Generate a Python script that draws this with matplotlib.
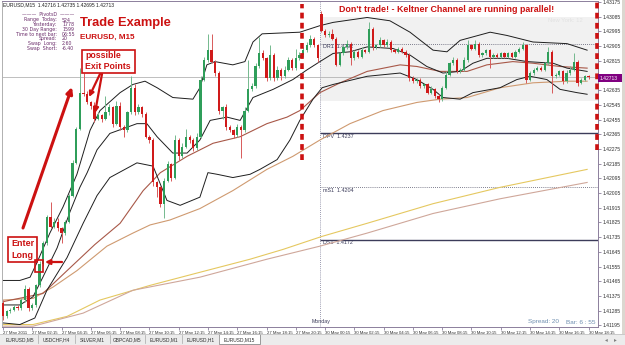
import matplotlib
matplotlib.use("Agg")
import matplotlib.pyplot as plt
from matplotlib.patches import Rectangle, FancyArrowPatch

W, H = 625, 345
PIP = 0.0001
RED = "#cc1111"

# ---- EURUSD M15 candles, bar 0 = 27 May, bar 87 = Monday 30 May 00:00 ----
closes = [
    1.4125, 1.4128, 1.4129, 1.4131, 1.4130, 1.4135, 1.4142, 1.4130, 1.4132, 1.4144,
    1.4157, 1.4170, 1.4186, 1.4180, 1.4183, 1.4179, 1.4176, 1.4183, 1.4199, 1.4219,
    1.4240, 1.4262, 1.4261, 1.4256, 1.4254, 1.4246, 1.4248, 1.4246, 1.4250, 1.4253,
    1.4243, 1.4254, 1.4241, 1.4239, 1.4250, 1.4265, 1.4250, 1.4253, 1.4249, 1.4235,
    1.4233, 1.4207, 1.4204, 1.4194, 1.4208, 1.4218, 1.4210, 1.4233, 1.4223, 1.4229,
    1.4235, 1.4233, 1.4228, 1.4235, 1.4270, 1.4282, 1.4288, 1.4281, 1.4274, 1.4251,
    1.4253, 1.4241, 1.4239, 1.4236, 1.4241, 1.4239, 1.4251, 1.4264, 1.4266, 1.4278,
    1.4286, 1.4283, 1.4271, 1.4285, 1.4271, 1.4276, 1.4272, 1.4276, 1.4282, 1.4277,
    1.4283, 1.4285, 1.4288, 1.4291, 1.4295, 1.4291, 1.4283,
    # Monday
    1.4300, 1.4297, 1.4298, 1.4295, 1.4279, 1.4286, 1.4290, 1.4292, 1.4283, 1.4287,
    1.4284, 1.4288, 1.4287, 1.4301, 1.4290, 1.4291, 1.4294, 1.4291, 1.4293, 1.4288,
    1.4287, 1.4289, 1.4287, 1.4285, 1.4271, 1.4269, 1.4270, 1.4266, 1.4267, 1.4262,
    1.4264, 1.4260, 1.4258, 1.4265, 1.4273, 1.4280, 1.4282, 1.4275, 1.4276, 1.4282,
    1.4291, 1.4289, 1.4292, 1.4285, 1.4286, 1.4288, 1.4284, 1.4285, 1.4284, 1.4286,
    1.4284, 1.4286, 1.4284, 1.4287, 1.4289, 1.4291, 1.4270, 1.4274, 1.4276, 1.4277,
    1.4276, 1.4280, 1.4287, 1.4272, 1.4273, 1.4275, 1.4269, 1.4274, 1.4276, 1.4281,
    1.4268, 1.4270, 1.4272, 1.42713,
]
# wick lengths in pips beyond the body
wick_up = [
    2, 1, 1, 1, 1, 1, 2, 1, 1, 1,  2, 1, 1, 9, 2, 2, 1, 1, 1, 2,
    1, 15, 12, 2, 1, 2, 2, 1, 10, 2,  1, 3, 2, 1, 1, 7, 2, 2, 1, 1,
    1, 1, 1, 1, 2, 2, 1, 3, 1, 2,  5, 1, 1, 2, 2, 2, 10, 10, 1, 1,
    1, 2, 1, 1, 2, 1, 2, 18, 2, 2,  10, 2, 1, 6, 1, 2, 1, 2, 2, 1,
    6, 2, 2, 2, 2, 1, 1, 2, 1, 2,  3, 1, 1, 1, 2, 1, 1, 1, 2, 1,
    4, 1, 1, 2, 1, 2, 1, 1, 1, 1,  1, 1, 1, 1, 1, 1, 1, 2, 1, 1,
    1, 2, 1, 2, 1, 1, 2, 3, 1, 2,  1, 1, 1, 1, 1, 1, 1, 1, 1, 1,
    1, 1, 2, 1, 1, 1, 1, 1, 1, 3,  1, 1, 1, 1, 2, 2, 5, 1, 1, 1,
    1,
]
wick_dn = [
    2, 1, 1, 1, 1, 1, 1, 2, 1, 1,  1, 1, 1, 1, 1, 2, 6, 1, 1, 1,
    1, 1, 1, 1, 2, 2, 1, 2, 1, 2,  2, 1, 2, 4, 1, 1, 2, 1, 2, 1,
    2, 2, 6, 2, 9, 1, 2, 1, 2, 1,  1, 2, 2, 1, 1, 1, 1, 1, 2, 2,
    5, 2, 1, 2, 1, 17, 1, 1, 1, 1,  1, 1, 2, 1, 2, 1, 2, 1, 1, 1,
    1, 1, 1, 1, 1, 1, 2, 1, 1, 1,  1, 1, 1, 1, 1, 4, 1, 1, 1, 1,
    1, 2, 1, 1, 1, 1, 1, 1, 1, 1,  1, 2, 1, 1, 1, 1, 1, 1, 1, 2,
    1, 1, 1, 1, 1, 1, 1, 1, 1, 1,  1, 1, 1, 7, 1, 1, 1, 1, 1, 1,
    1, 1, 1, 2, 1, 1, 1, 1, 1, 1,  10, 1, 1, 2, 1, 1, 1, 2, 1, 1,
    1,
]
first_open = 1.4133
monday_open = 1.4310
monday_bar = 87
current_price = 1.42713

# ---- indicator lines as (bar, price) ----
upper_bars = [0, 4.6, 7.4, 9.3, 12.8, 16.4, 20.2, 23.8, 26.5, 32, 35.5, 38.8, 42.1, 46.4, 51.9,
              53.8, 55.7, 57.9, 62.8, 66.1, 68.3, 70.8, 81.1, 86.6, 90.2, 99.5, 105.7, 111.2,
              117.5, 121.3, 124.9, 133.1, 137.7, 144.8, 154.1, 159.6]
upper_vals = [1.4147, 1.4147, 1.4149, 1.4158, 1.4176, 1.4192, 1.4212, 1.4239, 1.4251, 1.4262,
              1.4267, 1.4269, 1.4265, 1.4259, 1.4258, 1.4265, 1.4279, 1.4281, 1.4279, 1.4281,
              1.4293, 1.4298, 1.4299, 1.4303, 1.4305, 1.4308, 1.4306, 1.4299, 1.4288, 1.4287,
              1.4294, 1.4299, 1.4297, 1.4293, 1.4292, 1.4288]
middle_bars = [0, 4.6, 8.2, 10.9, 14.8, 18.3, 21, 23, 25.7, 29.2, 36.6, 39.3, 42.1, 46.4, 50.3,
               53.8, 56.6, 61.2, 64.8, 68.3, 73.8, 79.2, 83.1, 86.6, 90.2, 94.8, 99.5, 106.6,
               111.2, 115.8, 120.2, 124.9, 128.4, 132.2, 137.7, 143.2, 150.3, 154.1, 159.6]
middle_vals = [1.4132, 1.4132, 1.4137, 1.4149, 1.4167, 1.4189, 1.4204, 1.4213, 1.4227, 1.4237,
               1.4243, 1.4243, 1.4235, 1.4225, 1.4225, 1.4233, 1.4245, 1.4247, 1.4245, 1.4259,
               1.4264, 1.4270, 1.4276, 1.4281, 1.4286, 1.4287, 1.4290, 1.4289, 1.4285, 1.4278,
               1.4274, 1.4275, 1.4280, 1.4283, 1.4283, 1.4281, 1.4280, 1.4277, 1.4275]
lower_bars = [0, 4.6, 8.7, 12, 17.5, 21.9, 25.7, 29.2, 36.6, 41, 44.8, 48.4, 53.8, 56, 58.5,
              62.8, 67.5, 70.2, 74.9, 78.4, 81.1, 84.7, 87.2, 90.2, 99.5, 108.5, 113.1, 117.5,
              120.2, 124.9, 128.4, 135.8, 140.4, 144, 148.6, 152.2, 156.8, 159.6]
lower_vals = [1.4121, 1.4120, 1.4124, 1.4141, 1.4161, 1.4182, 1.4199, 1.4210, 1.4219, 1.4217,
              1.4196, 1.4193, 1.4198, 1.4213, 1.4212, 1.4210, 1.4212, 1.4215, 1.4221, 1.4233,
              1.4245, 1.4258, 1.4265, 1.4267, 1.4272, 1.4274, 1.4270, 1.4264, 1.4259, 1.4258,
              1.4262, 1.4265, 1.4270, 1.4272, 1.4270, 1.4264, 1.4262, 1.4261]
ma_fast_bars = [0, 10.9, 17.5, 25.1, 32, 38.3, 43, 50.3, 57.4, 64.8, 72.1, 77.6, 81.1, 86.6,
                92.1, 99.5, 108.5, 113.1, 119.4, 126.8, 132.2, 139.3, 144.8, 152.2, 159.6]
ma_fast_vals = [1.4134, 1.4139, 1.4153, 1.4169, 1.4182, 1.4202, 1.4213, 1.4223, 1.4231, 1.4235,
                1.4243, 1.4247, 1.4251, 1.4262, 1.4268, 1.4275, 1.4279, 1.4278, 1.4275, 1.4275,
                1.4279, 1.4281, 1.4280, 1.4278, 1.4277]
ma_slow_bars = [0, 8.2, 13.7, 20.2, 28.4, 35.5, 40.2, 45.6, 53.8, 62.8, 72.1, 79.2, 86.6, 94.8,
                103.8, 113.1, 119.4, 126.8, 135.8, 144.8, 154.1, 159.6]
ma_slow_vals = [1.4135, 1.4136, 1.4143, 1.4153, 1.4168, 1.4176, 1.4181, 1.4184, 1.4191, 1.4202,
                1.4215, 1.4223, 1.4233, 1.4243, 1.4251, 1.4256, 1.4258, 1.4259, 1.4265, 1.4268,
                1.4269, 1.4269]
ma_gold_bars = [0, 8.2, 17.5, 26.5, 40.2, 53.8, 67.5, 76.5, 87.2, 99.5, 117.5, 135.8, 159.6]
ma_gold_vals = [1.4120, 1.4120, 1.4125, 1.4135, 1.4144, 1.4152, 1.4160, 1.4166, 1.4174, 1.4182,
                1.4194, 1.4204, 1.4215]
ma_tan_bars = [0, 8.2, 21.9, 35.5, 53.8, 72.1, 86.6, 99.5, 117.5, 135.8, 159.6]
ma_tan_vals = [1.4119, 1.4119, 1.4127, 1.4141, 1.4149, 1.4160, 1.4168, 1.4176, 1.4188, 1.4197,
               1.4207]

# ---- pivots ----
pivot_names = ["DR1", "DPV", "mS1", "DS1"]
pivot_levels = [1.4292, 1.4237, 1.4204, 1.4172]
pivot_solid = [False, True, False, True]
monday_range = (1.4257, 1.4308)

# ---- axis labels ----
x_tick_bars = [0, 8, 16, 24, 32, 40, 48, 56, 64, 72, 80,
               88, 96, 104, 112, 120, 128, 136, 144, 152, 160]
x_tick_labels = ["27 May 2011", "27 May 02:15", "27 May 04:15", "27 May 06:15", "27 May 08:15",
                 "27 May 10:15", "27 May 12:15", "27 May 14:15", "27 May 16:15", "27 May 18:15",
                 "27 May 20:15", "30 May 00:15", "30 May 02:15", "30 May 04:15", "30 May 06:15",
                 "30 May 08:15", "30 May 10:15", "30 May 12:15", "30 May 14:15", "30 May 16:15",
                 "30 May 18:15"]
y_ticks = [1.41195, 1.41285, 1.41375, 1.41465, 1.41555, 1.41645, 1.41735, 1.41825, 1.41915,
           1.42005, 1.42095, 1.42185, 1.42275, 1.42365, 1.42455, 1.42545, 1.42635, 1.42725,
           1.42815, 1.42905, 1.42995, 1.43085, 1.43175]
# the 1.42725 label sits under the current-price marker
y_tick_labels = ["1.41195", "1.41285", "1.41375", "1.41465", "1.41555", "1.41645", "1.41735",
                 "1.41825", "1.41915", "1.42005", "1.42095", "1.42185", "1.42275", "1.42365",
                 "1.42455", "1.42545", "1.42635", "", "1.42815", "1.42905", "1.42995",
                 "1.43085", "1.43175"]

info_labels = ["Range  Today:", "Yesterday:", "30 Day Range:", "Time to next bar:",
               "Spread:", "Swap  Long:", "Swap  Short:"]
info_values = ["524", "1778", "1599", "06:55", "20", "2.60", "-6.40"]
tabs = ["EURUSD,M5", "USDCHF,H4", "SILVER,M1", "GBPCAD,M5", "EURUSD,M1", "EURUSD,H1", "EURUSD,M15"]
tab_edges = [2, 38, 75, 110, 145, 182, 219, 260]

plt.rcParams["font.family"] = ["Liberation Sans", "DejaVu Sans"]

fig = plt.figure(figsize=(W / 100, H / 100), dpi=100)
fig.patch.set_facecolor("white")
ax = fig.add_axes([2 / W, 18 / H, 596 / W, 326 / H])
ax.set_xlim(-0.27, 162.57)
ax.set_ylim(1.41185, 1.43181)


def ftext(x, y, s, **kw):
    return fig.text(x / W, 1 - y / H, s, **kw)


def frect(x0, y0, x1, y1, **kw):
    r = Rectangle((x0 / W, 1 - y1 / H), (x1 - x0) / W, (y1 - y0) / H,
                  transform=fig.transFigure, **kw)
    fig.add_artist(r)
    return r


def farrow(x0, y0, x1, y1, lw, ms):
    fig.add_artist(FancyArrowPatch((x0 / W, 1 - y0 / H), (x1 / W, 1 - y1 / H),
                                   transform=fig.transFigure, arrowstyle="-|>",
                                   mutation_scale=ms, color=RED, lw=lw,
                                   shrinkA=0, shrinkB=0))


# Monday range box and separators
ax.add_patch(Rectangle((86.75, monday_range[0]), 162.57 - 86.75,
                       monday_range[1] - monday_range[0], fc="#f1f1f1", ec="none", zorder=0))
ax.axvline(86.75, color="#7a7a96", lw=0.6, ls=(0, (1, 1.5)), zorder=1)
ax.axhline(current_price, color="#b4b4b4", lw=0.6, zorder=1)

for name, lvl, solid in zip(pivot_names, pivot_levels, pivot_solid):
    if solid:
        ax.hlines(lvl, 86.75, 162.57, color="#3c3c5a", lw=1.0, zorder=1.5)
    else:
        ax.hlines(lvl, 86.75, 162.57, color="#55556a", lw=0.6, ls=(0, (1, 1.5)), zorder=1.5)
    ax.text(87.3, lvl - 0.00003, f"{name}  {lvl:.4f}", fontsize=3.9, color="#3c3c5a",
            va="top", ha="left", zorder=2)

# indicator lines
ax.plot(ma_gold_bars, ma_gold_vals, color="#e5c860", lw=0.8, zorder=2)
ax.plot(ma_tan_bars, ma_tan_vals, color="#cfa79a", lw=0.8, zorder=2)
ax.plot(ma_slow_bars, ma_slow_vals, color="#cf9a70", lw=0.8, zorder=2)
ax.plot(ma_fast_bars, ma_fast_vals, color="#a85848", lw=0.8, zorder=2)
for bx, vals in [(upper_bars, upper_vals), (middle_bars, middle_vals), (lower_bars, lower_vals)]:
    ax.plot(bx, vals, color="#1e1e1e", lw=0.7, zorder=2.2)

# candles
opens = [first_open] + closes[:-1]
opens[monday_bar] = monday_open
xs = list(range(len(closes)))
highs, lows, bottoms, heights, body_c, wick_c = [], [], [], [], [], []
for o, c, wu, wd in zip(opens, closes, wick_up, wick_dn):
    top, bot = max(o, c), min(o, c)
    highs.append(top + wu * PIP)
    lows.append(bot - wd * PIP)
    bottoms.append(bot)
    heights.append(max(top - bot, 0.00003))
    bull = c >= o
    body_c.append("#2f9e5a" if bull else "#d01a1a")
    wick_c.append("#74b98e" if bull else "#d85a5a")
ax.vlines(xs, lows, highs, colors=wick_c, lw=0.7, zorder=3)
ax.bar(xs, heights, bottom=bottoms, width=0.62, color=body_c, linewidth=0, zorder=4)

# red dashed markers
ax.plot([81.7, 81.7], [1.4221, 1.4316], color=RED, lw=2.6, dashes=(1.6, 1.2),
        dash_capstyle="butt", zorder=5)
ax.plot([162.3, 162.3], [1.4227, 1.43175], color=RED, lw=2.6, dashes=(1.6, 1.2),
        dash_capstyle="butt", zorder=5, clip_on=False)

# axes styling
for side in ["top", "right", "bottom", "left"]:
    ax.spines[side].set_color("#8c7f9c")
    ax.spines[side].set_linewidth(0.7)
ax.spines["left"].set_color("#b0b0b0")
ax.yaxis.tick_right()
ax.set_yticks(y_ticks)
ax.set_yticklabels(y_tick_labels)
ax.tick_params(axis="y", direction="out", length=2, width=0.6, pad=1.5,
               labelsize=3.6, colors="#8c7f9c", labelcolor="#303030")
ax.set_xticks(x_tick_bars)
ax.set_xticklabels(x_tick_labels, ha="left")
ax.tick_params(axis="x", direction="out", length=2, width=0.6, pad=1.2,
               labelsize=3.1, colors="#8c7f9c", labelcolor="#303030")

# current price marker
frect(598, 74, 622, 82, fc="#800080", ec="none")
ftext(600, 78.2, f"{current_price:.5f}", fontsize=3.6, color="white", va="center")

# header texts
ftext(3, 5, "EURUSD,M15  1.42716 1.42735 1.42695 1.42713", fontsize=3.6, color="#202020",
      va="center")
ftext(48, 15, "———  PivotsD  ———", fontsize=3.4, color="#6b2d6b", va="center", ha="center",
      family="DejaVu Sans")
for k, (lab, val) in enumerate(zip(info_labels, info_values)):
    yy = 20 + k * 4.7
    ftext(57, yy, lab, fontsize=3.4, color="#6b2d6b", va="center", ha="right",
          family="DejaVu Sans")
    ftext(62, yy, val, fontsize=3.4, color="#6b2d6b", va="center", ha="left",
          family="DejaVu Sans")

ftext(80, 23, "Trade Example", fontsize=9.3, fontweight="bold", color=RED, va="center")
ftext(80, 37, "EURUSD, M15", fontsize=5.9, fontweight="bold", color=RED, va="center")
ftext(447, 10, "Don't trade! - Keltner Channel are running parallel!", fontsize=6.4,
      fontweight="bold", color=RED, va="center", ha="center")
ftext(548, 21, "New York: 12", fontsize=4.2, color="#e2e2e2", va="center")

# annotation boxes and arrows
frect(82, 50, 135, 73, fc="white", ec=RED, lw=1.2, zorder=6)
ftext(85, 56, "possible", fontsize=6.3, fontweight="bold", color=RED, va="center", zorder=7)
ftext(85, 66.5, "Exit Points", fontsize=6.3, fontweight="bold", color=RED, va="center", zorder=7)
frect(8, 237, 37, 262, fc="white", ec=RED, lw=1.2, zorder=6)
ftext(22.5, 243.5, "Enter", fontsize=6.4, fontweight="bold", color=RED, va="center",
      ha="center", zorder=7)
ftext(22.5, 255, "Long", fontsize=6.4, fontweight="bold", color=RED, va="center",
      ha="center", zorder=7)
frect(34.5, 260, 43, 272, fc="none", ec=RED, lw=1.2, zorder=6)

farrow(23, 228, 72, 87, 2.2, 9)
farrow(100, 74, 89, 97, 1.6, 7)
farrow(102, 74, 95, 113, 1.6, 7)
farrow(62, 262, 45, 262, 1.6, 7)

# bottom info
ftext(312, 321, "Monday", fontsize=3.8, color="#3c3c5a", va="center")
ftext(528, 322, "Spread: 20", fontsize=4.6, color="#6f8fb0", va="center")
ftext(566, 322, "Bar: 6 : 55", fontsize=4.6, color="#6f8fb0", va="center")

# tab bar
frect(0, 334, W, H, fc="#ececec", ec="none")
fig.add_artist(plt.Line2D([0, 1], [1 - 334 / H, 1 - 334 / H], transform=fig.transFigure,
                          color="#c4c4c4", lw=0.6))
for k, name in enumerate(tabs):
    x0, x1 = tab_edges[k], tab_edges[k + 1]
    if k == len(tabs) - 1:
        frect(x0, 334, x1, 344, fc="white", ec="#8a8a8a", lw=0.6)
    else:
        fig.add_artist(plt.Line2D([x1 / W, x1 / W], [1 - 343 / H, 1 - 335 / H],
                                  transform=fig.transFigure, color="#a8a8a8", lw=0.5))
    ftext((x0 + x1) / 2, 339.5, name, fontsize=3.5, color="#303030", va="center", ha="center")
ftext(605, 340, "◂", fontsize=4, color="#808080", va="center", family="DejaVu Sans")
ftext(614, 340, "▸", fontsize=4, color="#808080", va="center", family="DejaVu Sans")
frect(622, 0, W, 334, fc="#dcd7d0", ec="none")

fig.savefig("out.png", dpi=100)
